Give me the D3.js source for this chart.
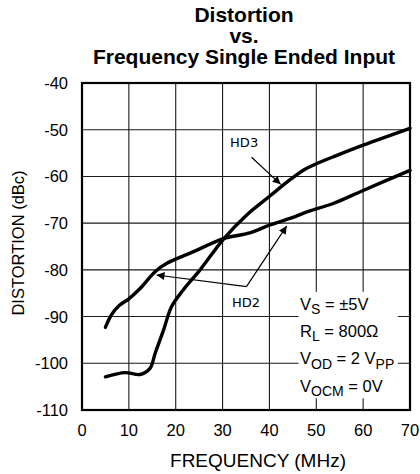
<!DOCTYPE html>
<html><head><meta charset="utf-8">
<script src="https://cdn.jsdelivr.net/npm/d3@7"></script>
<style>body{margin:0;background:#fff}svg{display:block}</style>
</head><body>
<svg id="c" width="420" height="474"></svg>
<script>
const titleLines = ["Distortion", "vs.", "Frequency Single Ended Input"];
const xTicks = [0, 10, 20, 30, 40, 50, 60, 70];
const yTicks = [-40, -50, -60, -70, -80, -90, -100, -110];
const hd2Freq = [5, 6.3, 8, 10, 12.4, 15.6, 18.1, 23.8, 30.2, 35.8, 40.1, 44.4, 48.3, 53.6, 60, 70];
const hd2Val  = [-92.3, -89.6, -87.6, -86.2, -84, -80.4, -78.6, -76.1, -73.3, -72.1, -70.4, -69.0, -67.5, -65.8, -63.0, -58.7];
const hd3Freq = [5, 9.2, 12.4, 14.5, 15.6, 17.4, 19.1, 21.6, 25.2, 30.2, 35.1, 40.1, 44.4, 47.5, 50, 53.6, 60, 70];
const hd3Val  = [-102.9, -102.0, -102.4, -101.1, -97.9, -92.9, -87.9, -84.3, -80.0, -73.4, -68.3, -64.2, -60.7, -58.5, -57.3, -55.8, -53.3, -49.7];
const legendLines = [["V","S"," = ±5V",""],["R","L"," = 800Ω",""],["V","OD"," = 2 V","PP"],["V","OCM"," = 0V",""]];

const svg = d3.select("#c");
const L = 82, R = 410, T = 83, B = 410;
const x = d3.scaleLinear().domain([0, 70]).range([L, R]);
const y = d3.scaleLinear().domain([-110, -40]).range([B, T]);
const font = "'Liberation Sans', Arial, sans-serif";

// title
svg.append("g").selectAll("text").data(titleLines).join("text")
  .attr("x", 244).attr("y", (d, i) => 21.5 + i * 21)
  .attr("text-anchor", "middle").attr("font-family", font)
  .attr("font-weight", "bold").attr("font-size", 21).attr("fill", "#000")
  .text(d => d);

// grid
const g = svg.append("g");
g.selectAll("line.v").data(xTicks.slice(1, -1)).join("line")
  .attr("x1", d => x(d)).attr("x2", d => x(d)).attr("y1", T).attr("y2", B)
  .attr("stroke", "#1a1a1a").attr("stroke-width", 1.1);
g.selectAll("line.h").data(yTicks.slice(1, -1)).join("line")
  .attr("y1", d => y(d)).attr("y2", d => y(d)).attr("x1", L).attr("x2", R)
  .attr("stroke", "#1a1a1a").attr("stroke-width", 1.1);

// legend background (covers grid)
g.append("rect").attr("x", x(46.2)).attr("y", y(-84.7))
  .attr("width", x(67.4) - x(46.2)).attr("height", y(-107.5) - y(-84.7))
  .attr("fill", "#fff");

// axes labels
svg.append("g").selectAll("text").data(yTicks).join("text")
  .attr("x", 68).attr("y", d => y(d)).attr("dy", "0.36em")
  .attr("text-anchor", "end").attr("font-family", font).attr("font-size", 16.5)
  .text(d => d);
svg.append("g").selectAll("text").data(xTicks).join("text")
  .attr("x", d => x(d)).attr("y", 435.5)
  .attr("text-anchor", "middle").attr("font-family", font).attr("font-size", 16.5)
  .text(d => d);
svg.append("text").attr("x", 258).attr("y", 466.5).attr("text-anchor", "middle")
  .attr("font-family", font).attr("font-size", 19).text("FREQUENCY (MHz)");
svg.append("text").attr("transform", `translate(24,243) rotate(-90)`)
  .attr("text-anchor", "middle").attr("font-family", font).attr("font-size", 16.5)
  .text("DISTORTION (dBc)");

// curves
const line = d3.line().x(d => x(d[0])).y(d => y(d[1])).curve(d3.curveCatmullRom.alpha(0.5));
const curves = [d3.zip(hd2Freq, hd2Val), d3.zip(hd3Freq, hd3Val)];
svg.append("g").selectAll("path").data(curves).join("path")
  .attr("d", line).attr("fill", "none").attr("stroke", "#000")
  .attr("stroke-width", 3.4).attr("stroke-linecap", "round").attr("stroke-linejoin", "round");

// frame
svg.append("rect").attr("x", L).attr("y", T).attr("width", R - L).attr("height", B - T)
  .attr("fill", "none").attr("stroke", "#000").attr("stroke-width", 2.2);

// annotations
const defs = svg.append("defs");
defs.append("marker").attr("id", "ah").attr("viewBox", "0 0 10 10")
  .attr("refX", 10).attr("refY", 5).attr("markerWidth", 10).attr("markerHeight", 8)
  .attr("markerUnits", "userSpaceOnUse").attr("orient", "auto")
  .append("path").attr("d", "M0,0 L10,5 L0,10 Z").attr("fill", "#000");
const ann = svg.append("g").attr("stroke", "#000").attr("stroke-width", 1.2).attr("fill", "none");
ann.append("line").attr("x1", x(36.2)).attr("y1", y(-55.9)).attr("x2", x(42.4)).attr("y2", y(-61.7))
  .attr("marker-end", "url(#ah)");
ann.append("line").attr("x1", x(35.1)).attr("y1", y(-83.6)).attr("x2", x(43.7)).attr("y2", y(-70.6))
  .attr("marker-end", "url(#ah)");
ann.append("line").attr("x1", x(35.1)).attr("y1", y(-83.6)).attr("x2", x(15.9)).attr("y2", y(-81.1))
  .attr("marker-end", "url(#ah)");
svg.append("text").attr("x", x(34.6)).attr("y", y(-53.6)).attr("text-anchor", "middle")
  .attr("font-family", "'DejaVu Sans', sans-serif").attr("font-size", 13).text("HD3");
svg.append("text").attr("x", x(35.0)).attr("y", y(-87.9)).attr("text-anchor", "middle")
  .attr("font-family", "'DejaVu Sans', sans-serif").attr("font-size", 13).text("HD2");

// legend text
const lg = svg.append("g").attr("font-family", font).attr("font-size", 16.5);
legendLines.forEach((p, i) => {
  const t = lg.append("text").attr("x", 300).attr("y", 309.5 + i * 27.4);
  t.append("tspan").text(p[0]);
  t.append("tspan").attr("font-size", 14).attr("dy", 4.5).text(p[1]);
  t.append("tspan").attr("dy", -4.5).text(p[2]);
  if (p[3]) t.append("tspan").attr("font-size", 14).attr("dy", 4.5).text(p[3]);
});
</script>
</body></html>
